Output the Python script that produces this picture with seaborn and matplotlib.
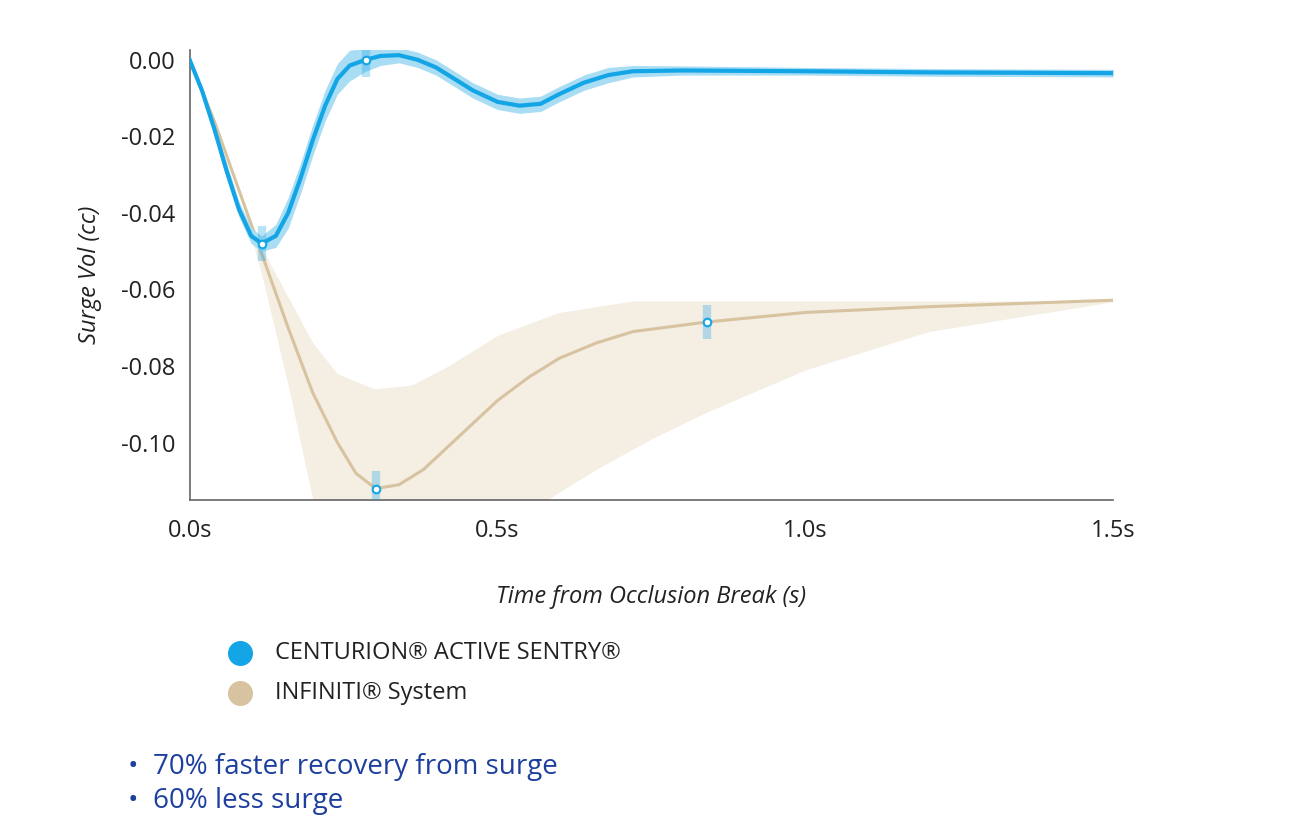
import matplotlib.pyplot as plt
import seaborn as sns
import numpy as np
import pandas as pd

plt.rcParams['font.family'] = 'Open Sans'

# CENTURION curve
cent_t = [0, 0.02, 0.04, 0.06, 0.08, 0.10, 0.117, 0.14, 0.16, 0.18, 0.20, 0.22, 0.24, 0.26,
          0.286, 0.31, 0.34, 0.37, 0.40, 0.43, 0.46, 0.50, 0.536, 0.57, 0.60, 0.64, 0.68,
          0.72, 0.80, 1.0, 1.2, 1.5]
cent_v = [0, -0.008, -0.018, -0.029, -0.039, -0.046, -0.048, -0.046, -0.040, -0.031, -0.021,
          -0.012, -0.005, -0.0015, 0.0, 0.001, 0.0012, 0.0, -0.002, -0.005, -0.008, -0.011,
          -0.012, -0.0115, -0.009, -0.006, -0.004, -0.003, -0.0028, -0.003, -0.0033, -0.0035]
cent_band = [0.0005, 0.001, 0.0015, 0.002, 0.002, 0.002, 0.002, 0.003, 0.004, 0.004, 0.004,
             0.004, 0.004, 0.004, 0.003, 0.0025, 0.002, 0.002, 0.002, 0.002, 0.002, 0.002,
             0.002, 0.002, 0.002, 0.002, 0.002, 0.0015, 0.0012, 0.001, 0.001, 0.001]

# INFINITI curve
inf_t = [0, 0.04, 0.08, 0.12, 0.16, 0.20, 0.24, 0.27, 0.302, 0.34, 0.38, 0.42, 0.46, 0.50,
         0.55, 0.60, 0.66, 0.72, 0.84, 1.0, 1.2, 1.5]
inf_v = [0, -0.016, -0.034, -0.052, -0.070, -0.087, -0.100, -0.108, -0.112, -0.111, -0.107,
         -0.101, -0.095, -0.089, -0.083, -0.078, -0.074, -0.071, -0.0685, -0.066, -0.0645,
         -0.0628]
inf_up_t = [0, 0.08, 0.12, 0.16, 0.20, 0.24, 0.30, 0.36, 0.42, 0.50, 0.60, 0.72, 1.0, 1.5]
inf_up_v = [0, -0.034, -0.050, -0.062, -0.074, -0.082, -0.086, -0.085, -0.080, -0.072,
            -0.066, -0.063, -0.063, -0.063]
inf_lo_t = [0, 0.08, 0.12, 0.16, 0.20, 0.30, 0.45, 0.58, 0.66, 0.75, 0.84, 1.0, 1.2, 1.5]
inf_lo_v = [0, -0.034, -0.058, -0.085, -0.115, -0.14, -0.14, -0.115, -0.107, -0.099,
            -0.092, -0.081, -0.071, -0.0632]

# highlighted points
mark_t = [0.117, 0.286, 0.302, 0.84]
mark_v = [-0.048, 0.0, -0.112, -0.0685]

x_ticks = [0, 0.5, 1.0, 1.5]
x_labels = ['0.0s', '0.5s', '1.0s', '1.5s']
y_ticks = [0.0, -0.02, -0.04, -0.06, -0.08, -0.10]

BLUE = '#14a5e6'
BLUE_BAND = '#a9ddf4'
TAN = '#d8c3a0'
TAN_BAND = '#f4eee3'
NAVY = '#1d3f9e'

fig = plt.figure(figsize=(12.9, 8.3), dpi=100)
ax = fig.add_axes([0.147, 0.398, 0.716, 0.542])

# tan band
xs = np.linspace(0, 1.5, 300)
up = np.interp(xs, inf_up_t, inf_up_v)
lo = np.interp(xs, inf_lo_t, inf_lo_v)
ax.fill_between(xs, lo, up, color=TAN_BAND, lw=0, zorder=1)
sns.lineplot(x=inf_t, y=inf_v, color=TAN, lw=2.2, ax=ax, zorder=2)

cv = np.array(cent_v); cb = np.array(cent_band)
ax.fill_between(cent_t, cv - cb, cv + cb, color=BLUE_BAND, lw=0, zorder=3)
sns.lineplot(x=cent_t, y=cent_v, color=BLUE, lw=3, ax=ax, zorder=4)

for t, v in zip(mark_t, mark_v):
    ax.plot([t, t], [v - 0.0045, v + 0.0045], color=BLUE, lw=6, alpha=0.3, zorder=5,
            solid_capstyle='butt')
    ax.scatter([t], [v], s=30, color='white', edgecolor=BLUE, linewidth=1.5, zorder=6)

ax.set_xlim(0, 1.5)
ax.set_ylim(-0.1149, 0.0026)
ax.set_xticks(x_ticks)
ax.set_xticklabels(x_labels)
ax.set_yticks(y_ticks)
ax.set_yticklabels([f'{v:.2f}' for v in y_ticks])
ax.tick_params(length=0, labelsize=17, colors='#222222', pad=10)
ax.tick_params(axis='x', pad=14)
for s in ['top', 'right']:
    ax.spines[s].set_visible(False)
for s in ['left', 'bottom']:
    ax.spines[s].set_color('#666666')
    ax.spines[s].set_linewidth(1.2)
ax.set_xlabel('Time from Occlusion Break (s)', fontsize=17, style='italic', labelpad=30,
              color='#222222')
ax.set_ylabel('Surge Vol (cc)', fontsize=17, style='italic', labelpad=14, color='#222222')

# legend
fig.add_artist(plt.Line2D([240 / 1290], [1 - 653 / 830], marker='o', markersize=17,
                          color=BLUE, transform=fig.transFigure))
fig.add_artist(plt.Line2D([240 / 1290], [1 - 693 / 830], marker='o', markersize=17,
                          color=TAN, transform=fig.transFigure))
fig.text(275 / 1290, 1 - 653 / 830, 'CENTURION® ACTIVE SENTRY®', fontsize=17, va='center',
         color='#222222')
fig.text(275 / 1290, 1 - 693 / 830, 'INFINITI® System', fontsize=17, va='center',
         color='#222222')

fig.text(128 / 1290, 1 - 767 / 830, '•  70% faster recovery from surge', fontsize=20,
         va='center', color=NAVY)
fig.text(128 / 1290, 1 - 801 / 830, '•  60% less surge', fontsize=20, va='center', color=NAVY)

fig.savefig('out.png', dpi=100)
